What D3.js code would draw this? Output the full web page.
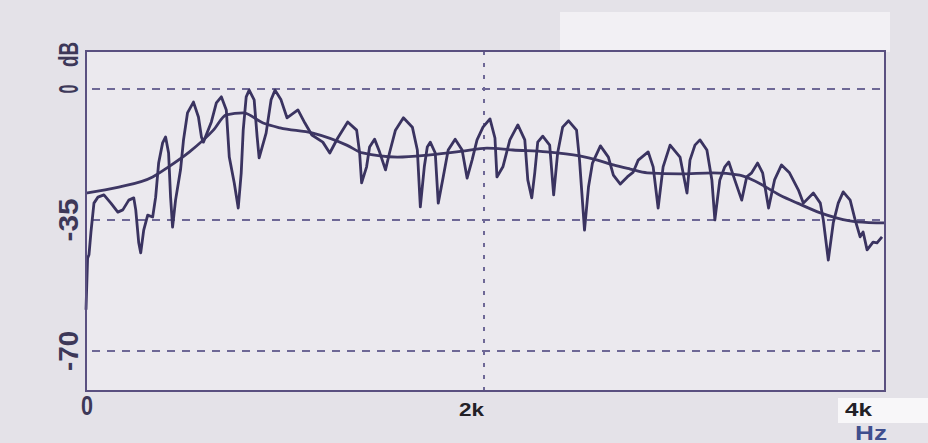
<!DOCTYPE html>
<html>
<head>
<meta charset="utf-8">
<script src="https://cdn.jsdelivr.net/npm/d3@7"></script>
<style>
  html, body { margin: 0; padding: 0; background: #e4e2e8; }
  svg { display: block; }
</style>
</head>
<body>
<svg id="chart"></svg>
<script>
// Harmonic spectrum (jagged line)
const freqHz = [0, 8, 15, 25, 40, 60, 90, 125, 160, 185, 215, 240, 250, 265, 275, 290, 310, 335,
  350, 365, 385, 400, 415, 425, 435, 450, 475, 490, 510, 540, 565, 580, 590, 630, 655, 680,
  705, 720, 745, 765, 780, 790, 805, 820, 845, 860, 870, 905, 930, 950, 980, 1010, 1065, 1100,
  1135, 1190, 1225, 1265, 1315, 1360, 1375, 1385, 1410, 1425, 1450, 1475, 1505, 1525, 1555,
  1595, 1640, 1665, 1680, 1700, 1715, 1730, 1755, 1770, 1795, 1820, 1855, 1890, 1915, 1940,
  1965, 1995, 2030, 2055, 2065, 2095, 2130, 2170, 2205, 2220, 2240, 2255, 2270, 2295, 2330,
  2350, 2370, 2395, 2425, 2465, 2480, 2505, 2525, 2545, 2585, 2625, 2650, 2685, 2720, 2750,
  2775, 2825, 2850, 2875, 2900, 2935, 2985, 3020, 3035, 3060, 3085, 3120, 3145, 3160, 3185,
  3210, 3230, 3260, 3295, 3320, 3345, 3375, 3400, 3430, 3460, 3495, 3535, 3580, 3605, 3655,
  3690, 3705, 3730, 3755, 3780, 3805, 3840, 3865, 3890, 3905, 3925, 3955, 3975, 4000];
const levelDb = [-59, -45.2, -44.3, -38.2, -30.5, -28.9, -28.3, -30.5, -32.9, -32.3, -29.7, -29.1,
  -32.3, -41.1, -43.8, -37.7, -33.7, -34.2, -28.9, -19.8, -14.4, -12.8, -17.1, -28.9, -36.9,
  -29.7, -21.6, -13.6, -6.4, -3.5, -7.5, -12.8, -14.2, -8.8, -3.7, -2.1, -5.6, -18.2, -25.1,
  -31.8, -22.4, -11.0, -2.1, -0.3, -2.9, -12.8, -18.4, -11.8, -2.9, -0.3, -2.9, -7.7, -5.6,
  -9.1, -12.3, -14.2, -17.1, -13.1, -8.8, -11.0, -17.1, -25.1, -20.8, -15.5, -13.4, -16.8,
  -21.6, -17.1, -11.0, -7.7, -10.2, -16.3, -31.5, -20.8, -15.5, -14.2, -17.1, -30.5, -23.5,
  -16.3, -13.4, -16.3, -23.8, -19.0, -13.6, -10.2, -8.0, -13.1, -23.5, -20.8, -13.6, -9.6,
  -13.6, -24.3, -29.1, -22.4, -14.2, -12.6, -15.0, -28.3, -17.1, -10.2, -8.5, -11.0, -19.0,
  -37.7, -26.2, -19.8, -15.2, -18.2, -23.0, -25.4, -23.5, -22.2, -19.0, -16.8, -20.8, -31.8,
  -20.8, -15.0, -18.2, -27.8, -19.0, -15.0, -13.6, -16.3, -24.3, -35.0, -24.3, -20.8, -19.5,
  -24.3, -29.7, -23.5, -22.4, -19.8, -22.4, -31.8, -24.3, -20.3, -22.4, -27.0, -30.5, -27.8,
  -30.5, -35.0, -45.7, -35.8, -30.5, -27.5, -29.7, -35.0, -39.5, -38.2, -43.0, -40.9, -41.1,
  -39.5];

// Smooth envelope
const envHz = [0, 165, 335, 415, 520, 640, 705, 790, 890, 975, 1140, 1310, 1390, 1565, 1730,
  1895, 2015, 2145, 2315, 2480, 2570, 2650, 2735, 2820, 2985, 3150, 3285, 3350, 3485, 3575,
  3690, 3775, 3875, 4015];
const envDb = [-27.8, -26.2, -23.5, -20.8, -16.8, -11.0, -6.9, -6.4, -9.1, -10.4, -11.8, -15.0,
  -17.1, -18.2, -17.6, -16.6, -15.8, -16.3, -16.8, -17.9, -19.0, -20.3, -21.4, -22.4, -22.7,
  -22.4, -23.0, -24.3, -28.3, -30.5, -33.1, -34.5, -35.5, -35.8];

// Axes ticks and labels
const yTicks = [0, -35, -70];
const yTickLabels = ["0", "-35", "-70"];
const xGrid = [2000];
const xTicks = [0, 2000, 4000];
const xTickLabels = ["0", "2k", "4k"];

const W = 928, H = 443;
const plot = { left: 86, right: 885, top: 51, bottom: 391 };

const svg = d3.select("#chart").attr("width", W).attr("height", H);

const x = d3.scaleLinear().domain([0, 4015]).range([plot.left, plot.right]);
const y = d3.scaleLinear().domain([-80.7, 10.15]).range([plot.bottom, plot.top]);

// paper background bits
svg.append("rect").attr("x", 0).attr("y", 0).attr("width", W).attr("height", H).attr("fill", "#e4e2e8");
svg.append("rect").attr("x", 560).attr("y", 12).attr("width", 330).attr("height", 40).attr("fill", "#f2f0f4");
svg.append("rect").attr("x", plot.left).attr("y", plot.top)
  .attr("width", plot.right - plot.left).attr("height", plot.bottom - plot.top)
  .attr("fill", "#ebe9ee");
svg.append("rect").attr("x", 838).attr("y", 398).attr("width", 90).attr("height", 25).attr("fill", "#f8f7f9");

// Grid lines
svg.append("g").selectAll("line")
  .data(yTicks)
  .enter()
  .append("line")
  .attr("x1", plot.left + 6)
  .attr("x2", plot.right)
  .attr("y1", d => y(d))
  .attr("y2", d => y(d))
  .attr("stroke", "#6e6896")
  .attr("stroke-width", 2)
  .attr("stroke-dasharray", "8,7");

svg.append("g").selectAll("line")
  .data(xGrid)
  .enter()
  .append("line")
  .attr("x1", d => x(d))
  .attr("x2", d => x(d))
  .attr("y1", plot.top)
  .attr("y2", plot.bottom)
  .attr("stroke", "#6e6896")
  .attr("stroke-width", 2)
  .attr("stroke-dasharray", "4,8");

// Envelope
const envData = envHz.map((f, i) => ({ f, db: envDb[i] }));
svg.append("path")
  .datum(envData)
  .attr("fill", "none")
  .attr("stroke", "#3e3764")
  .attr("stroke-width", 2.8)
  .attr("d", d3.line().x(d => x(d.f)).y(d => y(d.db)).curve(d3.curveMonotoneX));

// Harmonic line
const specData = freqHz.map((f, i) => ({ f, db: levelDb[i] }));
svg.append("path")
  .datum(specData)
  .attr("fill", "none")
  .attr("stroke", "#3a3360")
  .attr("stroke-width", 2.8)
  .attr("stroke-linejoin", "round")
  .attr("d", d3.line().x(d => x(d.f)).y(d => y(d.db)));

// Frame
svg.append("rect")
  .attr("x", plot.left).attr("y", plot.top)
  .attr("width", plot.right - plot.left).attr("height", plot.bottom - plot.top)
  .attr("fill", "none")
  .attr("stroke", "#5a5080")
  .attr("stroke-width", 2);

// Y labels, rotated
const yLen = { "0": 9, "-35": 43, "-70": 40 };
svg.append("g").selectAll("text")
  .data(yTicks)
  .enter()
  .append("text")
  .attr("transform", d => `translate(78,${y(d)}) rotate(-90)`)
  .attr("text-anchor", "middle")
  .attr("font-family", "Liberation Sans, Arial, sans-serif")
  .attr("font-weight", "bold")
  .attr("font-size", 27)
  .attr("fill", "#3d3858")
  .attr("textLength", (d, i) => yLen[yTickLabels[i]])
  .attr("lengthAdjust", "spacingAndGlyphs")
  .text((d, i) => yTickLabels[i]);

svg.append("text")
  .attr("transform", `translate(78,${y(9.2)}) rotate(-90)`)
  .attr("text-anchor", "middle")
  .attr("font-family", "Liberation Sans, Arial, sans-serif")
  .attr("font-weight", "bold")
  .attr("font-size", 27)
  .attr("fill", "#3d3858")
  .attr("textLength", 25)
  .attr("lengthAdjust", "spacingAndGlyphs")
  .text("dB");

// X labels
svg.append("text")
  .attr("x", x(xTicks[0]) + 1)
  .attr("y", 415)
  .attr("text-anchor", "middle")
  .attr("font-family", "Liberation Sans, Arial, sans-serif")
  .attr("font-weight", "bold")
  .attr("font-size", 27)
  .attr("fill", "#3d3858")
  .attr("textLength", 12)
  .attr("lengthAdjust", "spacingAndGlyphs")
  .text(xTickLabels[0]);

const xLen = [25, 27];
svg.append("g").selectAll("text")
  .data(xTicks.slice(1))
  .enter()
  .append("text")
  .attr("x", (d, i) => x(d) - (i === 0 ? 0 : 10))
  .attr("y", 416)
  .attr("text-anchor", "end")
  .attr("font-family", "Liberation Sans, Arial, sans-serif")
  .attr("font-weight", "bold")
  .attr("font-size", 18)
  .attr("fill", "#222026")
  .attr("textLength", (d, i) => xLen[i])
  .attr("lengthAdjust", "spacingAndGlyphs")
  .text((d, i) => xTickLabels[i + 1]);

svg.append("text")
  .attr("x", 855)
  .attr("y", 440)
  .attr("font-family", "Liberation Sans, Arial, sans-serif")
  .attr("font-weight", "bold")
  .attr("font-size", 20)
  .attr("fill", "#3f4f8e")
  .attr("textLength", 32)
  .attr("lengthAdjust", "spacingAndGlyphs")
  .text("Hz");
</script>
</body>
</html>
